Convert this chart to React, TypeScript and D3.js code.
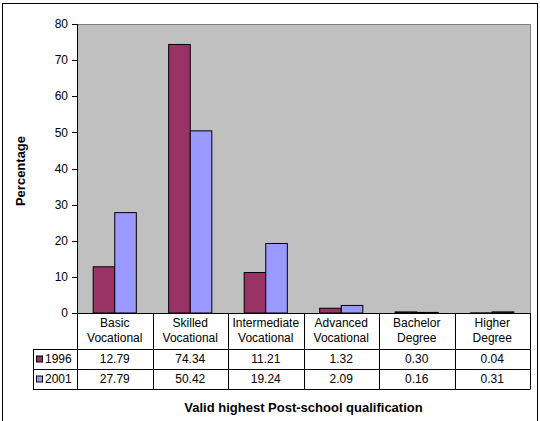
import React from "react";
import * as d3 from "d3";

const categories = [
  ["Basic", "Vocational"],
  ["Skilled", "Vocational"],
  ["Intermediate", "Vocational"],
  ["Advanced", "Vocational"],
  ["Bachelor", "Degree"],
  ["Higher", "Degree"],
];
const seriesNames = ["1996", "2001"];
const values1996 = [12.79, 74.34, 11.21, 1.32, 0.3, 0.04];
const values2001 = [27.79, 50.42, 19.24, 2.09, 0.16, 0.31];
const seriesColors = ["#993366", "#9999FF"];
const yTicks = [0, 10, 20, 30, 40, 50, 60, 70, 80];

export default function App() {
  const W = 540, H = 421;
  const L = 77, R = 530, T = 24, B = 313;
  const catKeys = categories.map((c) => c.join(" "));
  const x0 = d3.scaleBand<string>().domain(catKeys).range([L, R]).padding(0);
  const x1 = d3
    .scaleBand<string>()
    .domain(seriesNames)
    .range([0, x0.bandwidth()])
    .paddingInner(0)
    .paddingOuter(0.75);
  const y = d3.scaleLinear().domain([0, 80]).range([B, T]);
  const series = [values1996, values2001];
  const font = "'Liberation Sans', Arial, sans-serif";
  const rows = [
    [349, 369],
    [369, 389],
  ];
  const legendLeft = 33;

  return (
    <svg
      width={W}
      height={H}
      style={{ position: "absolute", left: 0, top: 0 }}
      fontFamily={font}
    >
      <rect x={0} y={0} width={W} height={H} fill="#fff" />
      <rect x={2.5} y={3.5} width={535} height={430} fill="none" stroke="#000" strokeWidth={1} />
      {/* plot area */}
      <rect x={L} y={T} width={R - L} height={B - T} fill="#C0C0C0" />
      <line x1={L} x2={R} y1={T + 0.5} y2={T + 0.5} stroke="#808080" />
      <line x1={R + 0.5} x2={R + 0.5} y1={T} y2={B} stroke="#808080" />
      {/* bars */}
      {series.map((vals, si) =>
        vals.map((v, ci) => {
          const bx = (x0(catKeys[ci]) as number) + (x1(seriesNames[si]) as number);
          const by = y(v);
          return (
            <rect
              key={`${si}-${ci}`}
              x={bx}
              y={by}
              width={x1.bandwidth()}
              height={B - by}
              fill={seriesColors[si]}
              stroke="#000"
              strokeWidth={1}
            />
          );
        })
      )}
      {/* y axis */}
      <line x1={L + 0.5} x2={L + 0.5} y1={T} y2={B} stroke="#000" />
      {yTicks.map((t) => (
        <g key={t}>
          <line x1={L - 5} x2={L} y1={Math.round(y(t)) + 0.5} y2={Math.round(y(t)) + 0.5} stroke="#000" />
          <text x={L - 9} y={y(t)} dy="0.35em" textAnchor="end" fontSize={12}>
            {t}
          </text>
        </g>
      ))}
      <text
        transform={`translate(25,171) rotate(-90)`}
        textAnchor="middle"
        fontSize={13}
        fontWeight="bold"
      >
        Percentage
      </text>
      {/* data table */}
      <g stroke="#000" strokeWidth={1} fill="none">
        <line x1={L} x2={R + 0.5} y1={B + 0.5} y2={B + 0.5} />
        <line x1={legendLeft} x2={R + 0.5} y1={rows[0][0] + 0.5} y2={rows[0][0] + 0.5} />
        <line x1={legendLeft} x2={R + 0.5} y1={rows[1][0] + 0.5} y2={rows[1][0] + 0.5} />
        <line x1={legendLeft} x2={R + 0.5} y1={rows[1][1] + 0.5} y2={rows[1][1] + 0.5} />
        <line x1={legendLeft + 0.5} x2={legendLeft + 0.5} y1={rows[0][0]} y2={rows[1][1]} />
        {catKeys.map((k) => (
          <line
            key={k}
            x1={Math.round(x0(k) as number) + 0.5}
            x2={Math.round(x0(k) as number) + 0.5}
            y1={B}
            y2={rows[1][1]}
          />
        ))}
        <line x1={R + 0.5} x2={R + 0.5} y1={B} y2={rows[1][1]} />
      </g>
      {categories.map((c, i) => {
        const cx = (x0(catKeys[i]) as number) + x0.bandwidth() / 2;
        return (
          <text key={i} x={cx} textAnchor="middle" fontSize={12}>
            <tspan x={cx} y={B + 14}>{c[0]}</tspan>
            <tspan x={cx} y={B + 29}>{c[1]}</tspan>
          </text>
        );
      })}
      {series.map((vals, si) => (
        <g key={si}>
          <rect
            x={legendLeft + 3.5}
            y={(rows[si][0] + rows[si][1]) / 2 - 3}
            width={6}
            height={6}
            fill={seriesColors[si]}
            stroke="#000"
          />
          <text
            x={legendLeft + 12}
            y={(rows[si][0] + rows[si][1]) / 2}
            dy="0.35em"
            fontSize={12}
          >
            {seriesNames[si]}
          </text>
          {vals.map((v, ci) => (
            <text
              key={ci}
              x={(x0(catKeys[ci]) as number) + x0.bandwidth() / 2}
              y={(rows[si][0] + rows[si][1]) / 2}
              dy="0.35em"
              textAnchor="middle"
              fontSize={12}
            >
              {v.toFixed(2)}
            </text>
          ))}
        </g>
      ))}
      <text x={(L + R) / 2} y={407} dy="0.35em" textAnchor="middle" fontSize={13} fontWeight="bold">
        Valid highest Post-school qualification
      </text>
    </svg>
  );
}
